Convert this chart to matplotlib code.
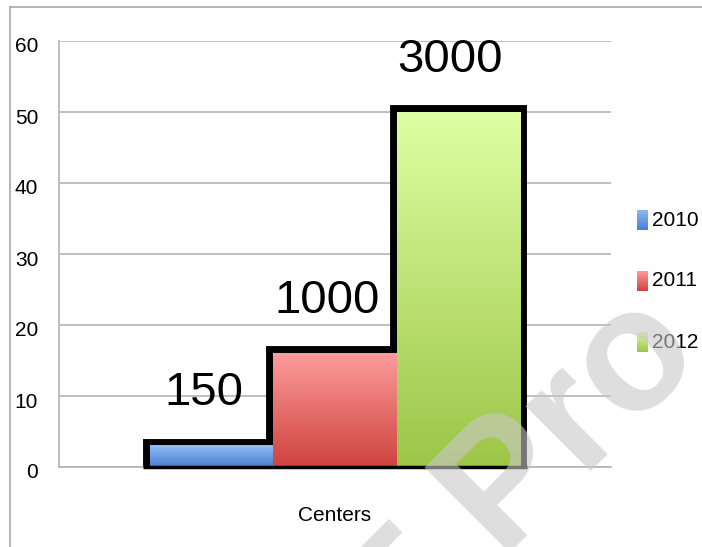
import numpy as np
import matplotlib
matplotlib.use('Agg')
import matplotlib.pyplot as plt
from matplotlib.colors import LinearSegmentedColormap
from matplotlib.lines import Line2D
from matplotlib.transforms import ScaledTranslation

plt.rcParams.update({
    'font.family': ['Liberation Sans', 'DejaVu Sans'],
    'figure.dpi': 100,
    'savefig.dpi': 100,
})

# data
categories = ['Centers']
years = ['2010', '2011', '2012']
values = [3, 16, 50]
bar_labels = ['150', '1000', '3000']
top_colors = ['#90bbf6', '#fb9d9b', '#deffa2']
bottom_colors = ['#4a7fcf', '#d0423e', '#9cc548']

fig = plt.figure(figsize=(7.02, 5.47))
ax = fig.add_axes([59/702, 1 - 467/547, 552/702, 426/547])

width = 0.223
offsets = (np.arange(len(years)) - 1) * width
grad = np.linspace(0, 1, 256).reshape(-1, 1)

# black step outline: thick edges, then gradient fills on top hide the inner half
bars = ax.bar(offsets, values, width, color='none', edgecolor='black',
              linewidth=10, zorder=2)
for b, v, lab, c0, c1 in zip(bars, values, bar_labels, bottom_colors, top_colors):
    x0 = b.get_x()
    cmap = LinearSegmentedColormap.from_list('g', [c0, c1])
    ax.imshow(grad, extent=[x0, x0 + width, 0, v], origin='lower', cmap=cmap,
              aspect='auto', zorder=3, interpolation='bilinear')
    ax.annotate(lab, (x0 + width/2, v), xytext=(-6, 29), textcoords='offset points',
                ha='center', va='baseline', fontsize=34, zorder=5)

pad = 0.0127
ax.plot([offsets[0] - width/2 - pad, offsets[-1] + width/2 + pad], [0, 0],
        color='black', lw=2.5, zorder=4, clip_on=False, solid_capstyle='butt')

ax.set_xlim(-0.5, 0.5)
ax.set_ylim(0, 60)
ax.set_yticks(range(0, 61, 10))
ax.set_xticks([0])
ax.set_xticklabels(categories)
ax.tick_params(axis='y', length=0, pad=15, labelsize=15)
ax.tick_params(axis='x', length=0, pad=28, labelsize=15)
ax.yaxis.grid(True, color='#b4b4b4', lw=1.2)
ax.set_axisbelow(True)
for s in ['top', 'right']:
    ax.spines[s].set_visible(False)
for s in ['left', 'bottom']:
    ax.spines[s].set_color('#b4b4b4')
    ax.spines[s].set_linewidth(1.2)
# labels sit a little below their gridlines in the original
for t in ax.get_yticklabels():
    t.set_transform(t.get_transform() + ScaledTranslation(0, -0.04, fig.dpi_scale_trans))

# legend
for i, (yr, c0, c1) in enumerate(zip(years, bottom_colors, top_colors)):
    yc = 220 + i * 61
    lax = fig.add_axes([637/702, 1 - (yc + 10)/547, 11/702, 20/547])
    lax.imshow(grad, origin='lower', aspect='auto',
               cmap=LinearSegmentedColormap.from_list('g', [c0, c1]))
    lax.axis('off')
    fig.text(652/702, 1 - yc/547, yr, va='center', ha='left', fontsize=15)

# frame border (top and left visible)
fig.add_artist(Line2D([10/702, 10/702], [0, 1 - 7/547], color='#a8a8a8', lw=1.2))
fig.add_artist(Line2D([10/702, 1], [1 - 7/547, 1 - 7/547], color='#a8a8a8', lw=1.2))

# watermark
wm = dict(rotation=45, rotation_mode='anchor', va='baseline', fontsize=125,
          fontweight='bold', color='#c8c8c8', alpha=0.6, zorder=10)
fig.text(0.678, -0.079, 'PDF', ha='right', **wm)
fig.text(0.709, -0.011, 'Pro', ha='left', **wm)

plt.savefig('out.png')
